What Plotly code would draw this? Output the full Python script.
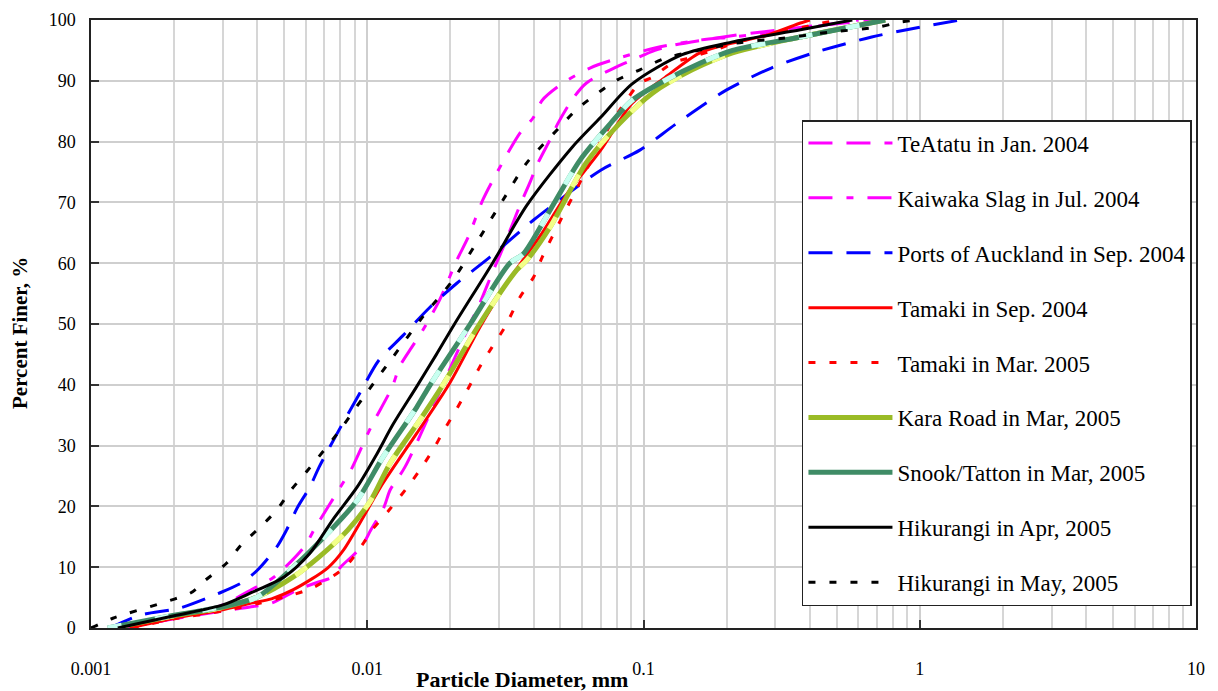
import plotly.graph_objects as go

# ---------------- data ----------------
teatatu_d = [0.0013, 0.002, 0.003, 0.0038, 0.0045, 0.0056, 0.0065, 0.0075, 0.008, 0.0095, 0.0103,
             0.0115, 0.0121, 0.0137, 0.023, 0.0256, 0.0284, 0.031, 0.0336, 0.0357, 0.039, 0.041,
             0.0467, 0.049, 0.055, 0.062, 0.08, 0.091, 0.11, 0.13, 0.2, 0.3, 0.45, 0.7]
teatatu_p = [0, 1.5, 2.8, 3.5, 4.1, 6.3, 7.4, 8.4, 10, 13.3, 16.1,
             19.9, 22.7, 26.5, 49, 53.5, 58.5, 62.5, 66.5, 69.5, 73.5, 76,
             81, 83, 86.8, 89.6, 92.3, 93.4, 95, 95.9, 97.3, 98.3, 99.2, 100]

kaiwaka_d = [0.0013, 0.002, 0.003, 0.0038, 0.0046, 0.0059, 0.0065, 0.008, 0.0088, 0.0103, 0.0123,
             0.0131, 0.0145, 0.0159, 0.0183, 0.0211, 0.0232, 0.0262, 0.0294, 0.0357, 0.04, 0.043,
             0.051, 0.064, 0.077, 0.11, 0.16, 0.21, 0.3, 0.6]
kaiwaka_p = [0, 1.6, 3.8, 6.3, 8.4, 13.3, 16.6, 23.2, 26.3, 33, 39.6,
             43, 46.2, 49, 54, 60.5, 64.3, 70.4, 74.8, 81.4, 84, 86.8,
             89.6, 92.1, 93.4, 95.4, 96.7, 97.2, 98, 100]

ports_d = [0.00117, 0.0015, 0.0021, 0.0029, 0.0035, 0.004, 0.0047, 0.0051, 0.0056, 0.0062, 0.0067,
           0.008, 0.0095, 0.011, 0.0134, 0.0169, 0.0211, 0.0278, 0.04, 0.05, 0.07, 0.097, 0.132,
           0.2, 0.29, 0.42, 0.67, 1.0, 1.4]
ports_p = [0, 2.1, 3.3, 5.7, 7.4, 9.5, 13.3, 16.1, 19.9, 23.2, 26.5,
           33, 39, 44, 48, 52.8, 56.7, 61, 67.1, 70.5, 75.3, 78.6, 83,
           88.5, 92.1, 94.7, 97.2, 98.8, 100]

tamaki_sep_d = [0.00138, 0.002, 0.003, 0.0038, 0.0045, 0.0054, 0.0072, 0.0082, 0.0114, 0.0151,
                0.0199, 0.0256, 0.032, 0.0366, 0.043, 0.053, 0.07, 0.091, 0.12, 0.16, 0.21, 0.28,
                0.37, 0.4]
tamaki_sep_p = [0, 1.6, 3, 4.1, 4.8, 6.3, 9.9, 12.8, 23.8, 32,
                40.3, 49.5, 56.7, 60.5, 65, 71.5, 78.6, 86.3, 90.6, 94.6, 96.2, 97.5,
                99.5, 100]

tamaki_mar_d = [0.0014, 0.002, 0.003, 0.004, 0.0054, 0.0064, 0.0083, 0.0097, 0.0104, 0.012, 0.014,
                0.0155, 0.0173, 0.019, 0.021, 0.023, 0.0256, 0.0283, 0.0315, 0.0357, 0.04, 0.043,
                0.05, 0.06, 0.07, 0.082, 0.097, 0.108, 0.127, 0.15, 0.19, 0.22, 0.3, 0.5]
tamaki_mar_p = [0, 1.5, 2.8, 4, 5.5, 6.7, 10, 14, 16.1, 19.4, 23.2,
                26, 29.3, 32.6, 35.9, 39.1, 43, 46.2, 49.5, 54.4, 57.7, 61,
                67, 74, 80, 85.2, 89.6, 90.6, 92.9, 93.9, 95.4, 96.4, 97.8, 100]

kara_d = [0.0012, 0.002, 0.003, 0.004, 0.0054, 0.0067, 0.0085, 0.0103, 0.0121, 0.0155, 0.0188,
          0.0255, 0.0348, 0.0378, 0.046, 0.062, 0.082, 0.108, 0.15, 0.21, 0.37, 0.75]
kara_p = [0, 2, 3.4, 5.1, 8.4, 11.7, 16.1, 21, 27.1, 34.2, 40,
          50, 58.9, 60.5, 66, 76.5, 83, 88, 91.8, 94.6, 97.2, 100]

snook_d = [0.00115, 0.002, 0.003, 0.004, 0.0054, 0.0072, 0.0092, 0.0114, 0.0151, 0.0169, 0.0236,
           0.0328, 0.0367, 0.046, 0.059, 0.076, 0.091, 0.12, 0.16, 0.21, 0.37, 0.75]
snook_p = [0, 2.1, 3.5, 5.1, 10, 15.6, 21, 28.1, 36.3, 40, 50,
           60, 61.5, 68.8, 77, 83, 86.8, 90.1, 92.9, 95, 97.2, 100]

hik_apr_d = [0.00125, 0.002, 0.003, 0.0038, 0.005, 0.0062, 0.0075, 0.0092, 0.0108, 0.0124, 0.015,
             0.0178, 0.0207, 0.0284, 0.0378, 0.055, 0.07, 0.091, 0.138, 0.21, 0.37, 0.57]
hik_apr_p = [0, 2, 3.8, 5.8, 8.4, 12.3, 17.8, 23.2, 28.5, 33.5, 39.5,
             45, 50, 60, 69.5, 79, 84, 89.5, 94.3, 96.4, 98.4, 100]

hik_may_d = [0.001, 0.0012, 0.0018, 0.0023, 0.0026, 0.0031, 0.0035, 0.0041, 0.0047, 0.0053, 0.0061,
             0.0078, 0.0097, 0.0124, 0.0159, 0.0204, 0.0248, 0.031, 0.0378, 0.0498, 0.057, 0.067,
             0.08, 0.097, 0.12, 0.217, 0.32, 0.47, 0.7, 0.86, 1.0]
hik_may_p = [0, 1.6, 4.1, 5.8, 7.9, 10.7, 13.7, 16.6, 19.4, 22.7, 26,
             32, 38, 44.6, 51.2, 57.2, 63.3, 70.4, 76.5, 82.4, 85.2, 87.7,
             90.1, 91.8, 93.7, 96.2, 97, 98, 98.8, 99.7, 100]

x_tick_vals = [0.001, 0.01, 0.1, 1, 10]
x_tick_text = ["0.001", "0.01", "0.1", "1", "10"]
y_tick_vals = [0, 10, 20, 30, 40, 50, 60, 70, 80, 90, 100]

# ---------------- figure ----------------
SERIF = "Liberation Serif, Times New Roman, serif"
fig = go.Figure()

series = [
    ("TeAtatu in Jan. 2004", teatatu_d, teatatu_p, "#FF00FF", 3, "24px,14px", None),
    ("Kaiwaka Slag in Jul. 2004", kaiwaka_d, kaiwaka_p, "#FF00FF", 3, "24px,14px,7px,14px", None),
    ("Ports of Auckland in Sep. 2004", ports_d, ports_p, "#0000FF", 3, "24px,14px", None),
    ("Tamaki in Sep. 2004", tamaki_sep_d, tamaki_sep_p, "#FF0000", 3, "solid", None),
    ("Tamaki in Mar. 2005", tamaki_mar_d, tamaki_mar_p, "#FF0000", 3, "7px,14px", None),
    ("Kara Road in Mar, 2005", kara_d, kara_p, "#9ABB26", 5, "solid", ("#F2FF88", "14px,34px")),
    ("Snook/Tatton in Mar, 2005", snook_d, snook_p, "#3F8C66", 5, "solid", ("#C8FFF0", "14px,34px")),
    ("Hikurangi in Apr, 2005", hik_apr_d, hik_apr_p, "#000000", 3, "solid", None),
    ("Hikurangi in May, 2005", hik_may_d, hik_may_p, "#000000", 3, "7px,14px", None),
]

for i, (name, d, p, color, w, dash, overlay) in enumerate(series):
    grp = "g%d" % i
    fig.add_trace(go.Scatter(
        x=d, y=p, mode="lines", name=name, legendgroup=grp,
        line=dict(color=color, width=w, dash=dash, shape="spline", smoothing=0.8),
        hoverinfo="skip"))
    if overlay is not None:
        fig.add_trace(go.Scatter(
            x=d, y=p, mode="lines", name=name, legendgroup=grp, showlegend=False,
            line=dict(color=overlay[0], width=w, dash=overlay[1], shape="spline", smoothing=0.8),
            hoverinfo="skip"))

minor_vals = [m * 10 ** e for e in range(-3, 1) for m in range(2, 10)]

# the page body has an 8px margin, so the figure is sized/offset to compensate
fig.update_layout(
    width=1210, height=683,
    margin=dict(l=83, r=22, t=12, b=63, autoexpand=False),
    paper_bgcolor="white", plot_bgcolor="white",
    font=dict(family=SERIF, color="black"),
    showlegend=True,
    legend=dict(
        x=0.6434, y=0.8355, xanchor="left", yanchor="top",
        bgcolor="white", bordercolor="#222222", borderwidth=1.5,
        font=dict(family=SERIF, size=23, color="black"),
        itemwidth=84, tracegroupgap=22, traceorder="grouped",
    ),
    xaxis=dict(
        type="log", range=[-3, 1], automargin=False,
        tickmode="array", tickvals=x_tick_vals, ticktext=x_tick_text,
        ticks="inside", ticklen=8, tickwidth=1.5, tickcolor="#333333",
        tickfont=dict(family=SERIF, size=18, color="black"),
        ticklabelstandoff=24,
        showgrid=True, gridcolor="#CFCFCF", gridwidth=1.5,
        minor=dict(tickmode="array", tickvals=minor_vals, showgrid=True,
                   gridcolor="#D6D6D6", gridwidth=1.5),
        showline=True, linecolor="#222222", linewidth=1.5, mirror=True,
        zeroline=False,
    ),
    yaxis=dict(
        range=[0, 100], tickmode="array", tickvals=y_tick_vals, automargin=False,
        ticks="inside", ticklen=8, tickwidth=1.5, tickcolor="#333333",
        tickfont=dict(family=SERIF, size=18, color="black"),
        ticklabelstandoff=10,
        showgrid=True, gridcolor="#CFCFCF", gridwidth=1.5,
        showline=True, linecolor="#222222", linewidth=1.5, mirror=True,
        zeroline=False,
    ),
    annotations=[
        dict(text="<b>Particle Diameter, mm</b>", xref="paper", yref="paper",
             x=(522 - 91) / 1105, y=-(679 - 628) / 608, xanchor="center", yanchor="middle",
             showarrow=False, font=dict(family=SERIF, size=22, color="black")),
        dict(text="<b>Percent Finer, %</b>", xref="paper", yref="paper",
             x=-(91 - 20) / 1105, y=(628 - 333) / 608, xanchor="center", yanchor="middle",
             textangle=-90, showarrow=False, font=dict(family=SERIF, size=21, color="black")),
    ],
)

fig.write_html("out.html")
